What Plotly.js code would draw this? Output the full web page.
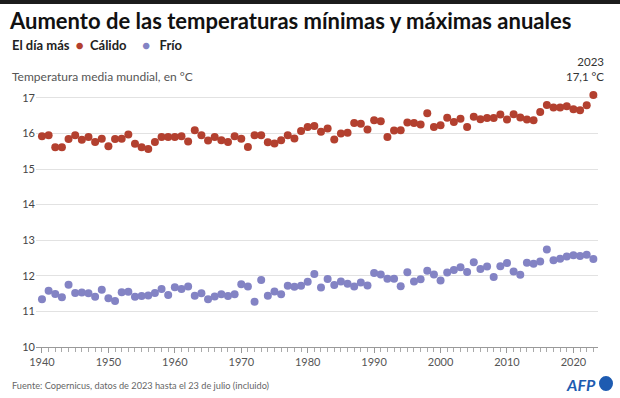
<!DOCTYPE html>
<html>
<head>
<meta charset="utf-8">
<script src="https://cdn.plot.ly/plotly-3.0.1.min.js"></script>
<style>html,body{margin:0;padding:0;background:#fff}#chart{width:620px;height:398px}</style>
</head>
<body>
<div id="chart"></div>
<script>
const years = [];
for (let y = 1940; y <= 2023; y++) years.push(y);

const calido = [
15.92,15.95,15.61,15.61,15.84,15.95,15.82,15.90,15.76,15.85,
15.64,15.84,15.85,15.97,15.71,15.61,15.56,15.76,15.90,15.90,
15.90,15.92,15.77,16.09,15.95,15.80,15.90,15.81,15.76,15.92,
15.85,15.62,15.95,15.95,15.75,15.72,15.81,15.95,15.86,16.07,
16.18,16.21,16.05,16.14,15.83,16.00,16.02,16.29,16.27,16.11,
16.37,16.34,15.90,16.08,16.09,16.31,16.29,16.25,16.57,16.18,
16.23,16.44,16.32,16.41,16.18,16.47,16.40,16.43,16.43,16.53,
16.39,16.54,16.45,16.39,16.37,16.60,16.80,16.73,16.73,16.76,
16.68,16.65,16.79,17.08
];

const frio = [
11.34,11.58,11.49,11.40,11.75,11.52,11.53,11.51,11.41,11.61,
11.37,11.29,11.54,11.55,11.41,11.43,11.45,11.52,11.63,11.46,
11.68,11.63,11.70,11.44,11.51,11.34,11.42,11.48,11.43,11.48,
11.76,11.70,11.27,11.88,11.44,11.56,11.48,11.72,11.69,11.72,
11.83,12.05,11.67,11.91,11.74,11.84,11.78,11.70,11.81,11.73,
12.08,12.04,11.92,11.92,11.71,12.10,11.84,11.90,12.14,12.04,
11.87,12.09,12.16,12.24,12.11,12.38,12.19,12.26,11.97,12.27,
12.36,12.12,12.03,12.37,12.34,12.40,12.74,12.44,12.48,12.54,
12.58,12.56,12.59,12.47
];

const yTicks = [10, 11, 12, 13, 14, 15, 16, 17];
const xTicks = [1940, 1950, 1960, 1970, 1980, 1990, 2000, 2010, 2020];
const xTickText = ['1940','1950','1960','1970','1980','1990','2000','2010','2020'];

const RED = '#b3402f';
const BLUE = '#8383c4';
const FONT = 'Lato, "Noto Sans", sans-serif';

// plot area pixel geometry helpers
const L = 36, R = 22, T = 90, B = 51, W = 620, H = 398;
const pw = W - L - R, ph = H - T - B;
const px = v => (v - L) / pw;
const py = v => (H - B - v) / ph;

const traces = [
  {x: years, y: calido, type: 'scatter', mode: 'markers', name: 'Cálido',
   marker: {color: RED, size: 8}, hoverinfo: 'x+y'},
  {x: years, y: frio, type: 'scatter', mode: 'markers', name: 'Frío',
   marker: {color: BLUE, size: 8}, hoverinfo: 'x+y'}
];

const last = calido[calido.length - 1];
const nb = '\u00a0';

const layout = {
  width: W, height: H,
  margin: {l: L, r: R, t: T, b: B},
  paper_bgcolor: '#fff', plot_bgcolor: '#fff',
  showlegend: false,
  font: {family: FONT, color: '#444'},
  title: {
    text: '<b>Aumento de las temperaturas mínimas y máximas anuales</b>',
    font: {family: FONT, size: 22, color: '#111'},
    xref: 'container', yref: 'container',
    x: 10 / W, xanchor: 'left', y: 1 - 21 / H, yanchor: 'middle'
  },
  xaxis: {
    range: [1939.1, 2023.7],
    tickvals: xTicks, ticktext: xTickText,
    ticks: 'outside', ticklen: 5, tickcolor: '#999', tickwidth: 1,
    minor: {dtick: 1, tick0: 1940, ticks: 'outside', ticklen: 4, tickcolor: '#aaa', showgrid: false},
    showgrid: false, zeroline: false,
    showline: true, linecolor: '#999', linewidth: 1,
    tickfont: {family: FONT, size: 11, color: '#555'}
  },
  yaxis: {
    range: [10, 17.22],
    tickvals: yTicks,
    showgrid: true, gridcolor: '#e2e2e2', gridwidth: 1,
    zeroline: false, showline: false, ticks: '',
    tickfont: {family: FONT, size: 11, color: '#444'}
  },
  shapes: [
    {type: 'rect', xref: 'paper', yref: 'paper', x0: px(0), x1: px(W), y0: py(4), y1: py(0),
     fillcolor: '#1c1c1c', line: {width: 0}, layer: 'above'},
    {type: 'line', xref: 'x', yref: 'y', ysizemode: 'pixel', yanchor: last,
     x0: 2023, x1: 2023, y0: 5, y1: 10, line: {color: '#888', width: 1}},
    {type: 'circle', xref: 'paper', yref: 'paper', x0: px(599), x1: px(613), y0: py(391), y1: py(376),
     fillcolor: '#1d5bb1', line: {width: 0}}
  ],
  annotations: [
    {xref: 'paper', yref: 'paper', x: px(10), y: py(45), xanchor: 'left', yanchor: 'middle',
     showarrow: false, align: 'left',
     text: '<b>El día más' + nb + nb + '<span style="color:' + RED + '">●</span>' + nb + nb + 'Cálido' + nb + nb + nb + nb + nb +
           '<span style="color:' + BLUE + '">●</span>' + nb + nb + nb + 'Frío</b>',
     font: {family: FONT, size: 13, color: '#222'}},
    {xref: 'paper', yref: 'paper', x: px(10), y: py(77), xanchor: 'left', yanchor: 'middle',
     showarrow: false, text: 'Temperatura media mundial, en °C',
     font: {family: FONT, size: 12, color: '#555'}},
    {xref: 'x', yref: 'y', x: 2023, y: last, xanchor: 'right', yanchor: 'bottom',
     xshift: 13, yshift: 10, showarrow: false, align: 'right',
     text: '2023<br>17,1 °C', font: {family: FONT, size: 11.5, color: '#333'}},
    {xref: 'paper', yref: 'paper', x: px(10), y: py(385), xanchor: 'left', yanchor: 'middle',
     showarrow: false, text: 'Fuente: Copernicus, datos de 2023 hasta el 23 de julio (incluido)',
     font: {family: FONT, size: 9.2, color: '#666'}},
    {xref: 'paper', yref: 'paper', x: px(598), y: py(384), xanchor: 'right', yanchor: 'middle',
     showarrow: false, text: '<b><i>AFP</i></b>',
     font: {family: FONT, size: 16, color: '#1d5bb1'}}
  ]
};

Plotly.newPlot('chart', traces, layout, {displayModeBar: false, staticPlot: true});
</script>
</body>
</html>
